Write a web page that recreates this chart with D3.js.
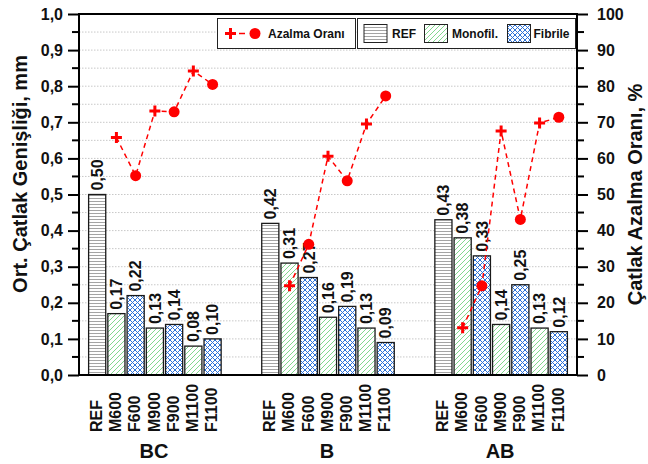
<!DOCTYPE html>
<html>
<head>
<meta charset="utf-8">
<script src="https://cdn.jsdelivr.net/npm/d3@7"></script>
<style>
  html, body { margin: 0; padding: 0; background: #fff; }
  svg { display: block; font-family: "Liberation Sans", Arial, sans-serif; font-weight: bold; }
</style>
</head>
<body>
<svg id="chart" width="648" height="464"></svg>
<script>
// Specimen groups and mixes
const groups = ["BC", "B", "AB"];
const specimens = ["REF", "M600", "F600", "M900", "F900", "M1100", "F1100"];

// Average crack width, mm (one value per specimen)
const widthBC = [0.50, 0.17, 0.22, 0.13, 0.14, 0.08, 0.10];
const widthB  = [0.42, 0.31, 0.27, 0.16, 0.19, 0.13, 0.09];
const widthAB = [0.43, 0.38, 0.33, 0.14, 0.25, 0.13, 0.12];

// Crack width reduction ratio, % (M600 ... F1100)
const reductionBC = [65.8, 55.2, 73.1, 72.9, 84.2, 80.5];
const reductionB  = [24.7, 36.2, 60.6, 53.8, 69.5, 77.3];
const reductionAB = [13.1, 24.7, 67.6, 43.1, 69.8, 71.4];

// Axis ticks
const leftTicks = [0, 0.1, 0.2, 0.3, 0.4, 0.5, 0.6, 0.7, 0.8, 0.9, 1.0];
const rightTicks = [0, 10, 20, 30, 40, 50, 60, 70, 80, 90, 100];

const widths = { BC: widthBC, B: widthB, AB: widthAB };
const reductions = { BC: reductionBC, B: reductionB, AB: reductionAB };

const svg = d3.select("#chart");
const L = 79, R = 577, T = 14, B = 375;

// Category slots: two empty slots separate the groups
const slots = [];
groups.forEach((g, gi) => {
  if (gi > 0) { slots.push("gap" + gi + "a"); slots.push("gap" + gi + "b"); }
  specimens.forEach(s => slots.push(g + "|" + s));
});

const x = d3.scaleBand().domain(slots).range([L, R]).paddingInner(0.11).paddingOuter(0.5);
const yL = d3.scaleLinear().domain([0, 1]).range([B, T]);
const yR = d3.scaleLinear().domain([0, 100]).range([B, T]);
const cx = k => x(k) + x.bandwidth() / 2;
const fmt = v => d3.format(".1f")(v).replace(".", ",");
const fmt2 = v => d3.format(".2f")(v).replace(".", ",");

// Fill patterns
const defs = svg.append("defs");
const pRef = defs.append("pattern").attr("id", "pRef").attr("patternUnits", "userSpaceOnUse")
  .attr("width", 6).attr("height", 3);
pRef.append("rect").attr("width", 6).attr("height", 3).attr("fill", "#fff");
pRef.append("line").attr("x1", 0).attr("x2", 6).attr("y1", 0.5).attr("y2", 0.5)
  .attr("stroke", "#9a9a9a").attr("stroke-width", 0.9);

const pMono = defs.append("pattern").attr("id", "pMono").attr("patternUnits", "userSpaceOnUse")
  .attr("width", 5).attr("height", 5);
pMono.append("rect").attr("width", 5).attr("height", 5).attr("fill", "#fff");
pMono.append("path").attr("d", "M-1,6 L6,-1 M-1,1 L1,-1 M4,6 L6,4")
  .attr("stroke", "#74d381").attr("stroke-width", 0.9);

const pFib = defs.append("pattern").attr("id", "pFib").attr("patternUnits", "userSpaceOnUse")
  .attr("width", 5).attr("height", 5);
pFib.append("rect").attr("width", 5).attr("height", 5).attr("fill", "#fff");
pFib.append("path").attr("d", "M-1,6 L6,-1 M-1,-1 L6,6 M-1,1 L1,-1 M4,6 L6,4 M-1,4 L1,6 M4,-1 L6,1")
  .attr("stroke", "#2e72d8").attr("stroke-width", 1);

const fillFor = s => s === "REF" ? "url(#pRef)" : (s[0] === "M" ? "url(#pMono)" : "url(#pFib)");

// Horizontal dotted grid
const gridVals = d3.range(0.05, 1.0, 0.05);
svg.append("g").selectAll("line").data(gridVals).join("line")
  .attr("x1", L).attr("x2", R).attr("y1", d => yL(d)).attr("y2", d => yL(d))
  .attr("stroke", "#c8c8c8").attr("stroke-width", 1).attr("stroke-dasharray", "1.5,1.5");

// Bars
const barData = [];
groups.forEach(g => specimens.forEach((s, i) => barData.push({ g, s, v: widths[g][i], key: g + "|" + s })));

svg.append("g").selectAll("rect").data(barData).join("rect")
  .attr("x", d => x(d.key)).attr("width", x.bandwidth())
  .attr("y", d => yL(d.v)).attr("height", d => yL(0) - yL(d.v))
  .attr("fill", d => fillFor(d.s)).attr("stroke", "#1a1a1a").attr("stroke-width", 1.3);

// Value labels above bars
svg.append("g").selectAll("text").data(barData).join("text")
  .attr("transform", d => `translate(${cx(d.key)},${yL(d.v) - 4}) rotate(-90)`)
  .attr("dy", "0.36em").attr("font-size", 16).attr("fill", "#111")
  .text(d => fmt2(d.v));

// Reduction ratio series
const lineGen = d3.line().x(d => cx(d.key)).y(d => yR(d.r));
groups.forEach(g => {
  const pts = specimens.slice(1).map((s, i) => ({ key: g + "|" + s, s, r: reductions[g][i] }));
  svg.append("path").datum(pts).attr("d", lineGen).attr("fill", "none")
    .attr("stroke", "#ff0000").attr("stroke-width", 1.5).attr("stroke-dasharray", "5,4");
  pts.forEach(p => {
    if (p.s[0] === "M") {
      svg.append("path")
        .attr("d", `M${cx(p.key) - 5.5},${yR(p.r)} h11 M${cx(p.key)},${yR(p.r) - 5.5} v11`)
        .attr("stroke", "#ff0000").attr("stroke-width", 3);
    } else {
      svg.append("circle").attr("cx", cx(p.key)).attr("cy", yR(p.r)).attr("r", 5.5).attr("fill", "#ff0000");
    }
  });
});

// Frame
svg.append("rect").attr("x", L).attr("y", T).attr("width", R - L).attr("height", B - T)
  .attr("fill", "none").attr("stroke", "#000").attr("stroke-width", 2);

// Left axis
const axL = d3.axisLeft(yL).tickValues(leftTicks).tickFormat(fmt).tickSize(11).tickPadding(5);
const gL = svg.append("g").attr("transform", `translate(${L},0)`).call(axL);
gL.select(".domain").remove();
gL.selectAll(".tick line").attr("stroke", "#000").attr("stroke-width", 2);
gL.selectAll(".tick text").attr("font-size", 16).attr("font-family", null).attr("fill", "#111");
svg.append("g").selectAll("line").data(d3.range(0.05, 1.0, 0.1)).join("line")
  .attr("x1", L - 7).attr("x2", L).attr("y1", d => yL(d)).attr("y2", d => yL(d))
  .attr("stroke", "#000").attr("stroke-width", 2);

// Right axis
const axR = d3.axisRight(yR).tickValues(rightTicks).tickFormat(d3.format("d")).tickSize(11).tickPadding(9);
const gR = svg.append("g").attr("transform", `translate(${R},0)`).call(axR);
gR.select(".domain").remove();
gR.selectAll(".tick line").attr("stroke", "#000").attr("stroke-width", 2);
gR.selectAll(".tick text").attr("font-size", 16).attr("font-family", null).attr("fill", "#111");
svg.append("g").selectAll("line").data(d3.range(5, 100, 10)).join("line")
  .attr("x1", R).attr("x2", R + 7).attr("y1", d => yR(d)).attr("y2", d => yR(d))
  .attr("stroke", "#000").attr("stroke-width", 2);

// Specimen labels under the axis
svg.append("g").selectAll("text").data(barData).join("text")
  .attr("transform", d => `translate(${cx(d.key) - 1},432) rotate(-90)`)
  .attr("dy", "0.36em").attr("font-size", 16).attr("fill", "#111")
  .text(d => d.s);

// Group labels
svg.append("g").selectAll("text").data(groups).join("text")
  .attr("x", g => cx(g + "|M900") - 1).attr("y", 458).attr("text-anchor", "middle")
  .attr("font-size", 20).attr("fill", "#111").text(g => g);

// Axis titles
svg.append("text").attr("transform", "translate(27,174) rotate(-90)")
  .attr("text-anchor", "middle").attr("font-size", 20).attr("fill", "#111")
  .text("Ort. Çatlak Genişliği, mm");
svg.append("text").attr("transform", `translate(642,${(T + B) / 2}) rotate(-90)`)
  .attr("text-anchor", "middle").attr("font-size", 20).attr("fill", "#111")
  .text("Çatlak Azalma Oranı, %");

// Legend: reduction series
const lg1 = svg.append("g");
lg1.append("rect").attr("x", 217.5).attr("y", 18.5).attr("width", 138).attr("height", 30)
  .attr("fill", "#fff").attr("stroke", "#222").attr("stroke-width", 1);
lg1.append("path").attr("d", "M225,33.5 h11 M230.5,28 v11").attr("stroke", "#ff0000").attr("stroke-width", 3);
lg1.append("line").attr("x1", 239).attr("x2", 245).attr("y1", 33.5).attr("y2", 33.5)
  .attr("stroke", "#ff0000").attr("stroke-width", 1.5);
lg1.append("circle").attr("cx", 255).attr("cy", 33.5).attr("r", 5.5).attr("fill", "#ff0000");
lg1.append("text").attr("x", 268).attr("y", 38).attr("font-size", 12).attr("fill", "#111").text("Azalma Oranı");

// Legend: bar fills
const legendItems = [
  { label: "REF", fill: "url(#pRef)", sx: 364, tx: 392 },
  { label: "Monofil.", fill: "url(#pMono)", sx: 424.5, tx: 452 },
  { label: "Fibrile", fill: "url(#pFib)", sx: 507.5, tx: 533.5 }
];
const lg2 = svg.append("g");
lg2.append("rect").attr("x", 357.5).attr("y", 18.5).attr("width", 218).attr("height", 30)
  .attr("fill", "#fff").attr("stroke", "#222").attr("stroke-width", 1);
legendItems.forEach(it => {
  lg2.append("rect").attr("x", it.sx).attr("y", 24.5).attr("width", 23).attr("height", 18)
    .attr("fill", it.fill).attr("stroke", "#222").attr("stroke-width", 1);
  lg2.append("text").attr("x", it.tx).attr("y", 38).attr("font-size", 12).attr("fill", "#111").text(it.label);
});
</script>
</body>
</html>
